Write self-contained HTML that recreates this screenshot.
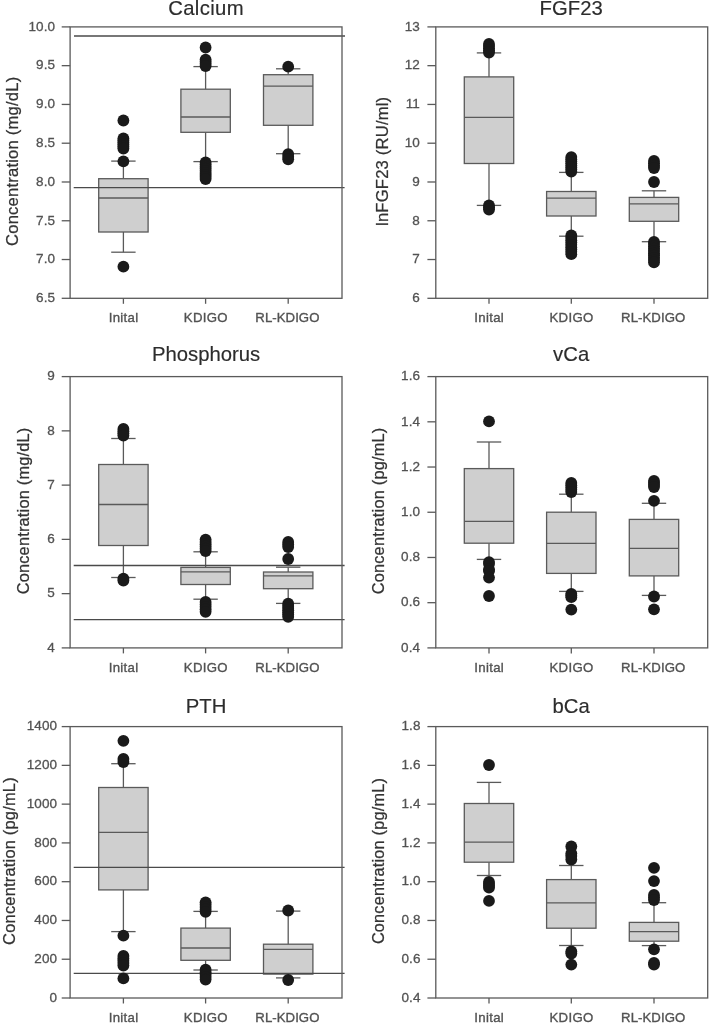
<!DOCTYPE html>
<html><head><meta charset="utf-8"><title>Box plots</title>
<style>
html,body{margin:0;padding:0;background:#fff;}
body{width:709px;height:1023px;overflow:hidden;}
svg{display:block;will-change:transform;}
text{font-family:"Liberation Sans",sans-serif;fill:#3a3a3a;}
.tk{font-size:13.2px;letter-spacing:0.3px;fill:#525252;stroke:#525252;stroke-width:0.35px;}
.ytk{font-size:13.5px;letter-spacing:0.1px;fill:#525252;stroke:#525252;stroke-width:0.3px;}
.tt{font-size:20.3px;letter-spacing:0.0px;fill:#2c2c2c;stroke:#2c2c2c;stroke-width:0.15px;}
.yl{font-size:16.6px;letter-spacing:0.2px;fill:#333;stroke:#333;stroke-width:0.25px;}
</style></head>
<body>
<svg width="709" height="1023" viewBox="0 0 709 1023">
<rect width="709" height="1023" fill="#fff"/>
<line x1="123.4" y1="161.1" x2="123.4" y2="178.7" stroke="#5a5a5a" stroke-width="1.3"/>
<line x1="123.4" y1="232.0" x2="123.4" y2="252.2" stroke="#5a5a5a" stroke-width="1.3"/>
<line x1="111.20" y1="161.1" x2="135.60" y2="161.1" stroke="#5a5a5a" stroke-width="1.3"/>
<line x1="111.20" y1="252.2" x2="135.60" y2="252.2" stroke="#5a5a5a" stroke-width="1.3"/>
<rect x="98.70" y="178.7" width="49.40" height="53.30" fill="#cfcfcf" stroke="#5a5a5a" stroke-width="1.3"/>
<line x1="98.70" y1="198.0" x2="148.10" y2="198.0" stroke="#5a5a5a" stroke-width="1.3"/>
<line x1="205.6" y1="66.6" x2="205.6" y2="89.2" stroke="#5a5a5a" stroke-width="1.3"/>
<line x1="205.6" y1="132.3" x2="205.6" y2="161.6" stroke="#5a5a5a" stroke-width="1.3"/>
<line x1="193.40" y1="66.6" x2="217.80" y2="66.6" stroke="#5a5a5a" stroke-width="1.3"/>
<line x1="193.40" y1="161.6" x2="217.80" y2="161.6" stroke="#5a5a5a" stroke-width="1.3"/>
<rect x="180.90" y="89.2" width="49.40" height="43.10" fill="#cfcfcf" stroke="#5a5a5a" stroke-width="1.3"/>
<line x1="180.90" y1="117.0" x2="230.30" y2="117.0" stroke="#5a5a5a" stroke-width="1.3"/>
<line x1="288.2" y1="68.8" x2="288.2" y2="74.7" stroke="#5a5a5a" stroke-width="1.3"/>
<line x1="288.2" y1="125.3" x2="288.2" y2="153.7" stroke="#5a5a5a" stroke-width="1.3"/>
<line x1="276.00" y1="68.8" x2="300.40" y2="68.8" stroke="#5a5a5a" stroke-width="1.3"/>
<line x1="276.00" y1="153.7" x2="300.40" y2="153.7" stroke="#5a5a5a" stroke-width="1.3"/>
<rect x="263.50" y="74.7" width="49.40" height="50.60" fill="#cfcfcf" stroke="#5a5a5a" stroke-width="1.3"/>
<line x1="263.50" y1="86.1" x2="312.90" y2="86.1" stroke="#5a5a5a" stroke-width="1.3"/>
<line x1="74.0" y1="36.0" x2="345.0" y2="36.0" stroke="#4a4a4a" stroke-width="1.3"/>
<line x1="73.7" y1="187.6" x2="344.6" y2="187.6" stroke="#4a4a4a" stroke-width="1.3"/>
<circle cx="123.4" cy="120.50" r="5.9" fill="#1a1a1a"/>
<circle cx="123.4" cy="138.40" r="5.9" fill="#1a1a1a"/>
<circle cx="123.4" cy="140.42" r="5.9" fill="#1a1a1a"/>
<circle cx="123.4" cy="142.44" r="5.9" fill="#1a1a1a"/>
<circle cx="123.4" cy="144.46" r="5.9" fill="#1a1a1a"/>
<circle cx="123.4" cy="146.48" r="5.9" fill="#1a1a1a"/>
<circle cx="123.4" cy="148.50" r="5.9" fill="#1a1a1a"/>
<circle cx="123.4" cy="161.30" r="5.9" fill="#1a1a1a"/>
<circle cx="123.4" cy="266.70" r="5.9" fill="#1a1a1a"/>
<circle cx="205.6" cy="47.50" r="5.9" fill="#1a1a1a"/>
<circle cx="205.6" cy="59.60" r="5.9" fill="#1a1a1a"/>
<circle cx="205.6" cy="61.73" r="5.9" fill="#1a1a1a"/>
<circle cx="205.6" cy="63.87" r="5.9" fill="#1a1a1a"/>
<circle cx="205.6" cy="66.00" r="5.9" fill="#1a1a1a"/>
<circle cx="205.6" cy="162.50" r="5.9" fill="#1a1a1a"/>
<circle cx="205.6" cy="164.57" r="5.9" fill="#1a1a1a"/>
<circle cx="205.6" cy="166.65" r="5.9" fill="#1a1a1a"/>
<circle cx="205.6" cy="168.72" r="5.9" fill="#1a1a1a"/>
<circle cx="205.6" cy="170.80" r="5.9" fill="#1a1a1a"/>
<circle cx="205.6" cy="172.88" r="5.9" fill="#1a1a1a"/>
<circle cx="205.6" cy="174.95" r="5.9" fill="#1a1a1a"/>
<circle cx="205.6" cy="177.03" r="5.9" fill="#1a1a1a"/>
<circle cx="205.6" cy="179.10" r="5.9" fill="#1a1a1a"/>
<circle cx="288.2" cy="66.70" r="5.9" fill="#1a1a1a"/>
<circle cx="288.2" cy="154.10" r="5.9" fill="#1a1a1a"/>
<circle cx="288.2" cy="156.70" r="5.9" fill="#1a1a1a"/>
<circle cx="288.2" cy="159.30" r="5.9" fill="#1a1a1a"/>
<rect x="70.1" y="26.9" width="271.90" height="271.40" fill="none" stroke="#5a5a5a" stroke-width="1.3"/>
<line x1="61.70" y1="298.30" x2="70.1" y2="298.30" stroke="#5a5a5a" stroke-width="1.3"/>
<text x="55.20" y="302.10" text-anchor="end" class="ytk">6.5</text>
<line x1="61.70" y1="259.53" x2="70.1" y2="259.53" stroke="#5a5a5a" stroke-width="1.3"/>
<text x="55.20" y="263.33" text-anchor="end" class="ytk">7.0</text>
<line x1="61.70" y1="220.76" x2="70.1" y2="220.76" stroke="#5a5a5a" stroke-width="1.3"/>
<text x="55.20" y="224.56" text-anchor="end" class="ytk">7.5</text>
<line x1="61.70" y1="181.99" x2="70.1" y2="181.99" stroke="#5a5a5a" stroke-width="1.3"/>
<text x="55.20" y="185.79" text-anchor="end" class="ytk">8.0</text>
<line x1="61.70" y1="143.21" x2="70.1" y2="143.21" stroke="#5a5a5a" stroke-width="1.3"/>
<text x="55.20" y="147.01" text-anchor="end" class="ytk">8.5</text>
<line x1="61.70" y1="104.44" x2="70.1" y2="104.44" stroke="#5a5a5a" stroke-width="1.3"/>
<text x="55.20" y="108.24" text-anchor="end" class="ytk">9.0</text>
<line x1="61.70" y1="65.67" x2="70.1" y2="65.67" stroke="#5a5a5a" stroke-width="1.3"/>
<text x="55.20" y="69.47" text-anchor="end" class="ytk">9.5</text>
<line x1="61.70" y1="26.90" x2="70.1" y2="26.90" stroke="#5a5a5a" stroke-width="1.3"/>
<text x="55.20" y="30.70" text-anchor="end" class="ytk">10.0</text>
<line x1="123.4" y1="298.3" x2="123.4" y2="303.80" stroke="#5a5a5a" stroke-width="1.3"/>
<text x="123.60000000000001" y="322.30" text-anchor="middle" class="tk">Inital</text>
<line x1="205.6" y1="298.3" x2="205.6" y2="303.80" stroke="#5a5a5a" stroke-width="1.3"/>
<text x="205.79999999999998" y="322.30" text-anchor="middle" class="tk">KDIGO</text>
<line x1="288.2" y1="298.3" x2="288.2" y2="303.80" stroke="#5a5a5a" stroke-width="1.3"/>
<text x="287.4" y="322.30" text-anchor="middle" class="tk" style="letter-spacing:0.05px">RL-KDIGO</text>
<text x="206.05" y="15.20" text-anchor="middle" class="tt" style="letter-spacing:0.35px">Calcium</text>
<text transform="translate(17.90,161.30) rotate(-90)" text-anchor="middle" class="yl" style="font-size:16.6px">Concentration (mg/dL)</text>
<line x1="489.0" y1="52.9" x2="489.0" y2="76.9" stroke="#5a5a5a" stroke-width="1.3"/>
<line x1="489.0" y1="163.5" x2="489.0" y2="205.4" stroke="#5a5a5a" stroke-width="1.3"/>
<line x1="476.80" y1="52.9" x2="501.20" y2="52.9" stroke="#5a5a5a" stroke-width="1.3"/>
<line x1="476.80" y1="205.4" x2="501.20" y2="205.4" stroke="#5a5a5a" stroke-width="1.3"/>
<rect x="464.30" y="76.9" width="49.40" height="86.60" fill="#cfcfcf" stroke="#5a5a5a" stroke-width="1.3"/>
<line x1="464.30" y1="117.4" x2="513.70" y2="117.4" stroke="#5a5a5a" stroke-width="1.3"/>
<line x1="571.3" y1="172.4" x2="571.3" y2="191.5" stroke="#5a5a5a" stroke-width="1.3"/>
<line x1="571.3" y1="216.0" x2="571.3" y2="236.2" stroke="#5a5a5a" stroke-width="1.3"/>
<line x1="559.10" y1="172.4" x2="583.50" y2="172.4" stroke="#5a5a5a" stroke-width="1.3"/>
<line x1="559.10" y1="236.2" x2="583.50" y2="236.2" stroke="#5a5a5a" stroke-width="1.3"/>
<rect x="546.60" y="191.5" width="49.40" height="24.50" fill="#cfcfcf" stroke="#5a5a5a" stroke-width="1.3"/>
<line x1="546.60" y1="198.2" x2="596.00" y2="198.2" stroke="#5a5a5a" stroke-width="1.3"/>
<line x1="654.0" y1="190.8" x2="654.0" y2="197.4" stroke="#5a5a5a" stroke-width="1.3"/>
<line x1="654.0" y1="221.3" x2="654.0" y2="241.7" stroke="#5a5a5a" stroke-width="1.3"/>
<line x1="641.80" y1="190.8" x2="666.20" y2="190.8" stroke="#5a5a5a" stroke-width="1.3"/>
<line x1="641.80" y1="241.7" x2="666.20" y2="241.7" stroke="#5a5a5a" stroke-width="1.3"/>
<rect x="629.30" y="197.4" width="49.40" height="23.90" fill="#cfcfcf" stroke="#5a5a5a" stroke-width="1.3"/>
<line x1="629.30" y1="203.9" x2="678.70" y2="203.9" stroke="#5a5a5a" stroke-width="1.3"/>
<circle cx="489.0" cy="44.00" r="5.9" fill="#1a1a1a"/>
<circle cx="489.0" cy="46.12" r="5.9" fill="#1a1a1a"/>
<circle cx="489.0" cy="48.25" r="5.9" fill="#1a1a1a"/>
<circle cx="489.0" cy="50.38" r="5.9" fill="#1a1a1a"/>
<circle cx="489.0" cy="52.50" r="5.9" fill="#1a1a1a"/>
<circle cx="489.0" cy="205.50" r="5.9" fill="#1a1a1a"/>
<circle cx="489.0" cy="207.50" r="5.9" fill="#1a1a1a"/>
<circle cx="489.0" cy="209.50" r="5.9" fill="#1a1a1a"/>
<circle cx="571.3" cy="157.10" r="5.9" fill="#1a1a1a"/>
<circle cx="571.3" cy="159.17" r="5.9" fill="#1a1a1a"/>
<circle cx="571.3" cy="161.24" r="5.9" fill="#1a1a1a"/>
<circle cx="571.3" cy="163.31" r="5.9" fill="#1a1a1a"/>
<circle cx="571.3" cy="165.39" r="5.9" fill="#1a1a1a"/>
<circle cx="571.3" cy="167.46" r="5.9" fill="#1a1a1a"/>
<circle cx="571.3" cy="169.53" r="5.9" fill="#1a1a1a"/>
<circle cx="571.3" cy="171.60" r="5.9" fill="#1a1a1a"/>
<circle cx="571.3" cy="235.50" r="5.9" fill="#1a1a1a"/>
<circle cx="571.3" cy="237.84" r="5.9" fill="#1a1a1a"/>
<circle cx="571.3" cy="240.18" r="5.9" fill="#1a1a1a"/>
<circle cx="571.3" cy="242.51" r="5.9" fill="#1a1a1a"/>
<circle cx="571.3" cy="244.85" r="5.9" fill="#1a1a1a"/>
<circle cx="571.3" cy="247.19" r="5.9" fill="#1a1a1a"/>
<circle cx="571.3" cy="249.52" r="5.9" fill="#1a1a1a"/>
<circle cx="571.3" cy="251.86" r="5.9" fill="#1a1a1a"/>
<circle cx="571.3" cy="254.20" r="5.9" fill="#1a1a1a"/>
<circle cx="654.0" cy="161.00" r="5.9" fill="#1a1a1a"/>
<circle cx="654.0" cy="163.33" r="5.9" fill="#1a1a1a"/>
<circle cx="654.0" cy="165.67" r="5.9" fill="#1a1a1a"/>
<circle cx="654.0" cy="168.00" r="5.9" fill="#1a1a1a"/>
<circle cx="654.0" cy="182.00" r="5.9" fill="#1a1a1a"/>
<circle cx="654.0" cy="241.80" r="5.9" fill="#1a1a1a"/>
<circle cx="654.0" cy="244.09" r="5.9" fill="#1a1a1a"/>
<circle cx="654.0" cy="246.38" r="5.9" fill="#1a1a1a"/>
<circle cx="654.0" cy="248.67" r="5.9" fill="#1a1a1a"/>
<circle cx="654.0" cy="250.96" r="5.9" fill="#1a1a1a"/>
<circle cx="654.0" cy="253.24" r="5.9" fill="#1a1a1a"/>
<circle cx="654.0" cy="255.53" r="5.9" fill="#1a1a1a"/>
<circle cx="654.0" cy="257.82" r="5.9" fill="#1a1a1a"/>
<circle cx="654.0" cy="260.11" r="5.9" fill="#1a1a1a"/>
<circle cx="654.0" cy="262.40" r="5.9" fill="#1a1a1a"/>
<rect x="435.8" y="26.9" width="271.90" height="271.40" fill="none" stroke="#5a5a5a" stroke-width="1.3"/>
<line x1="427.40" y1="298.30" x2="435.8" y2="298.30" stroke="#5a5a5a" stroke-width="1.3"/>
<text x="419.90" y="302.10" text-anchor="end" class="ytk">6</text>
<line x1="427.40" y1="259.53" x2="435.8" y2="259.53" stroke="#5a5a5a" stroke-width="1.3"/>
<text x="419.90" y="263.33" text-anchor="end" class="ytk">7</text>
<line x1="427.40" y1="220.76" x2="435.8" y2="220.76" stroke="#5a5a5a" stroke-width="1.3"/>
<text x="419.90" y="224.56" text-anchor="end" class="ytk">8</text>
<line x1="427.40" y1="181.99" x2="435.8" y2="181.99" stroke="#5a5a5a" stroke-width="1.3"/>
<text x="419.90" y="185.79" text-anchor="end" class="ytk">9</text>
<line x1="427.40" y1="143.21" x2="435.8" y2="143.21" stroke="#5a5a5a" stroke-width="1.3"/>
<text x="419.90" y="147.01" text-anchor="end" class="ytk">10</text>
<line x1="427.40" y1="104.44" x2="435.8" y2="104.44" stroke="#5a5a5a" stroke-width="1.3"/>
<text x="419.90" y="108.24" text-anchor="end" class="ytk">11</text>
<line x1="427.40" y1="65.67" x2="435.8" y2="65.67" stroke="#5a5a5a" stroke-width="1.3"/>
<text x="419.90" y="69.47" text-anchor="end" class="ytk">12</text>
<line x1="427.40" y1="26.90" x2="435.8" y2="26.90" stroke="#5a5a5a" stroke-width="1.3"/>
<text x="419.90" y="30.70" text-anchor="end" class="ytk">13</text>
<line x1="489.0" y1="298.3" x2="489.0" y2="303.80" stroke="#5a5a5a" stroke-width="1.3"/>
<text x="489.2" y="322.30" text-anchor="middle" class="tk">Inital</text>
<line x1="571.3" y1="298.3" x2="571.3" y2="303.80" stroke="#5a5a5a" stroke-width="1.3"/>
<text x="571.5" y="322.30" text-anchor="middle" class="tk">KDIGO</text>
<line x1="654.0" y1="298.3" x2="654.0" y2="303.80" stroke="#5a5a5a" stroke-width="1.3"/>
<text x="653.2" y="322.30" text-anchor="middle" class="tk" style="letter-spacing:0.05px">RL-KDIGO</text>
<text x="571.15" y="15.20" text-anchor="middle" class="tt" style="letter-spacing:0px">FGF23</text>
<text transform="translate(388.10,161.30) rotate(-90)" text-anchor="middle" class="yl" style="font-size:16.6px">lnFGF23 (RU/ml)</text>
<line x1="123.4" y1="438.5" x2="123.4" y2="464.5" stroke="#5a5a5a" stroke-width="1.3"/>
<line x1="123.4" y1="545.5" x2="123.4" y2="577.5" stroke="#5a5a5a" stroke-width="1.3"/>
<line x1="111.20" y1="438.5" x2="135.60" y2="438.5" stroke="#5a5a5a" stroke-width="1.3"/>
<line x1="111.20" y1="577.5" x2="135.60" y2="577.5" stroke="#5a5a5a" stroke-width="1.3"/>
<rect x="98.70" y="464.5" width="49.40" height="81.00" fill="#cfcfcf" stroke="#5a5a5a" stroke-width="1.3"/>
<line x1="98.70" y1="504.5" x2="148.10" y2="504.5" stroke="#5a5a5a" stroke-width="1.3"/>
<line x1="205.6" y1="551.8" x2="205.6" y2="567.4" stroke="#5a5a5a" stroke-width="1.3"/>
<line x1="205.6" y1="584.5" x2="205.6" y2="599.2" stroke="#5a5a5a" stroke-width="1.3"/>
<line x1="193.40" y1="551.8" x2="217.80" y2="551.8" stroke="#5a5a5a" stroke-width="1.3"/>
<line x1="193.40" y1="599.2" x2="217.80" y2="599.2" stroke="#5a5a5a" stroke-width="1.3"/>
<rect x="180.90" y="567.4" width="49.40" height="17.10" fill="#cfcfcf" stroke="#5a5a5a" stroke-width="1.3"/>
<line x1="180.90" y1="571.8" x2="230.30" y2="571.8" stroke="#5a5a5a" stroke-width="1.3"/>
<line x1="288.2" y1="567.2" x2="288.2" y2="572.0" stroke="#5a5a5a" stroke-width="1.3"/>
<line x1="288.2" y1="588.7" x2="288.2" y2="603.4" stroke="#5a5a5a" stroke-width="1.3"/>
<line x1="276.00" y1="567.2" x2="300.40" y2="567.2" stroke="#5a5a5a" stroke-width="1.3"/>
<line x1="276.00" y1="603.4" x2="300.40" y2="603.4" stroke="#5a5a5a" stroke-width="1.3"/>
<rect x="263.50" y="572.0" width="49.40" height="16.70" fill="#cfcfcf" stroke="#5a5a5a" stroke-width="1.3"/>
<line x1="263.50" y1="575.9" x2="312.90" y2="575.9" stroke="#5a5a5a" stroke-width="1.3"/>
<line x1="73.7" y1="565.5" x2="344.6" y2="565.5" stroke="#4a4a4a" stroke-width="1.3"/>
<line x1="73.7" y1="619.6" x2="344.6" y2="619.6" stroke="#4a4a4a" stroke-width="1.3"/>
<circle cx="123.4" cy="429.00" r="5.9" fill="#1a1a1a"/>
<circle cx="123.4" cy="431.17" r="5.9" fill="#1a1a1a"/>
<circle cx="123.4" cy="433.33" r="5.9" fill="#1a1a1a"/>
<circle cx="123.4" cy="435.50" r="5.9" fill="#1a1a1a"/>
<circle cx="123.4" cy="578.60" r="5.9" fill="#1a1a1a"/>
<circle cx="123.4" cy="580.60" r="5.9" fill="#1a1a1a"/>
<circle cx="205.6" cy="539.60" r="5.9" fill="#1a1a1a"/>
<circle cx="205.6" cy="541.88" r="5.9" fill="#1a1a1a"/>
<circle cx="205.6" cy="544.16" r="5.9" fill="#1a1a1a"/>
<circle cx="205.6" cy="546.44" r="5.9" fill="#1a1a1a"/>
<circle cx="205.6" cy="548.72" r="5.9" fill="#1a1a1a"/>
<circle cx="205.6" cy="551.00" r="5.9" fill="#1a1a1a"/>
<circle cx="205.6" cy="601.90" r="5.9" fill="#1a1a1a"/>
<circle cx="205.6" cy="604.38" r="5.9" fill="#1a1a1a"/>
<circle cx="205.6" cy="606.85" r="5.9" fill="#1a1a1a"/>
<circle cx="205.6" cy="609.32" r="5.9" fill="#1a1a1a"/>
<circle cx="205.6" cy="611.80" r="5.9" fill="#1a1a1a"/>
<circle cx="288.2" cy="542.00" r="5.9" fill="#1a1a1a"/>
<circle cx="288.2" cy="544.50" r="5.9" fill="#1a1a1a"/>
<circle cx="288.2" cy="547.00" r="5.9" fill="#1a1a1a"/>
<circle cx="288.2" cy="559.00" r="5.9" fill="#1a1a1a"/>
<circle cx="288.2" cy="603.70" r="5.9" fill="#1a1a1a"/>
<circle cx="288.2" cy="605.88" r="5.9" fill="#1a1a1a"/>
<circle cx="288.2" cy="608.07" r="5.9" fill="#1a1a1a"/>
<circle cx="288.2" cy="610.25" r="5.9" fill="#1a1a1a"/>
<circle cx="288.2" cy="612.43" r="5.9" fill="#1a1a1a"/>
<circle cx="288.2" cy="614.62" r="5.9" fill="#1a1a1a"/>
<circle cx="288.2" cy="616.80" r="5.9" fill="#1a1a1a"/>
<rect x="70.1" y="376.6" width="271.90" height="271.30" fill="none" stroke="#5a5a5a" stroke-width="1.3"/>
<line x1="61.70" y1="647.90" x2="70.1" y2="647.90" stroke="#5a5a5a" stroke-width="1.3"/>
<text x="54.80" y="651.70" text-anchor="end" class="ytk">4</text>
<line x1="61.70" y1="593.64" x2="70.1" y2="593.64" stroke="#5a5a5a" stroke-width="1.3"/>
<text x="54.80" y="597.44" text-anchor="end" class="ytk">5</text>
<line x1="61.70" y1="539.38" x2="70.1" y2="539.38" stroke="#5a5a5a" stroke-width="1.3"/>
<text x="54.80" y="543.18" text-anchor="end" class="ytk">6</text>
<line x1="61.70" y1="485.12" x2="70.1" y2="485.12" stroke="#5a5a5a" stroke-width="1.3"/>
<text x="54.80" y="488.92" text-anchor="end" class="ytk">7</text>
<line x1="61.70" y1="430.86" x2="70.1" y2="430.86" stroke="#5a5a5a" stroke-width="1.3"/>
<text x="54.80" y="434.66" text-anchor="end" class="ytk">8</text>
<line x1="61.70" y1="376.60" x2="70.1" y2="376.60" stroke="#5a5a5a" stroke-width="1.3"/>
<text x="54.80" y="380.40" text-anchor="end" class="ytk">9</text>
<line x1="123.4" y1="647.9" x2="123.4" y2="653.40" stroke="#5a5a5a" stroke-width="1.3"/>
<text x="123.60000000000001" y="671.90" text-anchor="middle" class="tk">Inital</text>
<line x1="205.6" y1="647.9" x2="205.6" y2="653.40" stroke="#5a5a5a" stroke-width="1.3"/>
<text x="205.79999999999998" y="671.90" text-anchor="middle" class="tk">KDIGO</text>
<line x1="288.2" y1="647.9" x2="288.2" y2="653.40" stroke="#5a5a5a" stroke-width="1.3"/>
<text x="287.4" y="671.90" text-anchor="middle" class="tk" style="letter-spacing:0.05px">RL-KDIGO</text>
<text x="206.05" y="360.50" text-anchor="middle" class="tt" style="letter-spacing:0px">Phosphorus</text>
<text transform="translate(29.00,510.95) rotate(-90)" text-anchor="middle" class="yl" style="font-size:16.35px">Concentration (mg/dL)</text>
<line x1="489.0" y1="442.0" x2="489.0" y2="468.6" stroke="#5a5a5a" stroke-width="1.3"/>
<line x1="489.0" y1="543.2" x2="489.0" y2="559.4" stroke="#5a5a5a" stroke-width="1.3"/>
<line x1="476.80" y1="442.0" x2="501.20" y2="442.0" stroke="#5a5a5a" stroke-width="1.3"/>
<line x1="476.80" y1="559.4" x2="501.20" y2="559.4" stroke="#5a5a5a" stroke-width="1.3"/>
<rect x="464.30" y="468.6" width="49.40" height="74.60" fill="#cfcfcf" stroke="#5a5a5a" stroke-width="1.3"/>
<line x1="464.30" y1="521.4" x2="513.70" y2="521.4" stroke="#5a5a5a" stroke-width="1.3"/>
<line x1="571.3" y1="494.2" x2="571.3" y2="512.2" stroke="#5a5a5a" stroke-width="1.3"/>
<line x1="571.3" y1="573.4" x2="571.3" y2="591.4" stroke="#5a5a5a" stroke-width="1.3"/>
<line x1="559.10" y1="494.2" x2="583.50" y2="494.2" stroke="#5a5a5a" stroke-width="1.3"/>
<line x1="559.10" y1="591.4" x2="583.50" y2="591.4" stroke="#5a5a5a" stroke-width="1.3"/>
<rect x="546.60" y="512.2" width="49.40" height="61.20" fill="#cfcfcf" stroke="#5a5a5a" stroke-width="1.3"/>
<line x1="546.60" y1="543.3" x2="596.00" y2="543.3" stroke="#5a5a5a" stroke-width="1.3"/>
<line x1="654.0" y1="503.3" x2="654.0" y2="519.4" stroke="#5a5a5a" stroke-width="1.3"/>
<line x1="654.0" y1="575.9" x2="654.0" y2="595.4" stroke="#5a5a5a" stroke-width="1.3"/>
<line x1="641.80" y1="503.3" x2="666.20" y2="503.3" stroke="#5a5a5a" stroke-width="1.3"/>
<line x1="641.80" y1="595.4" x2="666.20" y2="595.4" stroke="#5a5a5a" stroke-width="1.3"/>
<rect x="629.30" y="519.4" width="49.40" height="56.50" fill="#cfcfcf" stroke="#5a5a5a" stroke-width="1.3"/>
<line x1="629.30" y1="548.4" x2="678.70" y2="548.4" stroke="#5a5a5a" stroke-width="1.3"/>
<circle cx="489.0" cy="421.40" r="5.9" fill="#1a1a1a"/>
<circle cx="489.0" cy="562.10" r="5.9" fill="#1a1a1a"/>
<circle cx="489.0" cy="564.00" r="5.9" fill="#1a1a1a"/>
<circle cx="489.0" cy="569.50" r="5.9" fill="#1a1a1a"/>
<circle cx="489.0" cy="571.00" r="5.9" fill="#1a1a1a"/>
<circle cx="489.0" cy="577.60" r="5.9" fill="#1a1a1a"/>
<circle cx="489.0" cy="596.00" r="5.9" fill="#1a1a1a"/>
<circle cx="571.3" cy="483.00" r="5.9" fill="#1a1a1a"/>
<circle cx="571.3" cy="485.25" r="5.9" fill="#1a1a1a"/>
<circle cx="571.3" cy="487.50" r="5.9" fill="#1a1a1a"/>
<circle cx="571.3" cy="489.75" r="5.9" fill="#1a1a1a"/>
<circle cx="571.3" cy="492.00" r="5.9" fill="#1a1a1a"/>
<circle cx="571.3" cy="593.80" r="5.9" fill="#1a1a1a"/>
<circle cx="571.3" cy="595.50" r="5.9" fill="#1a1a1a"/>
<circle cx="571.3" cy="597.20" r="5.9" fill="#1a1a1a"/>
<circle cx="571.3" cy="609.60" r="5.9" fill="#1a1a1a"/>
<circle cx="654.0" cy="481.00" r="5.9" fill="#1a1a1a"/>
<circle cx="654.0" cy="483.00" r="5.9" fill="#1a1a1a"/>
<circle cx="654.0" cy="485.00" r="5.9" fill="#1a1a1a"/>
<circle cx="654.0" cy="487.00" r="5.9" fill="#1a1a1a"/>
<circle cx="654.0" cy="500.80" r="5.9" fill="#1a1a1a"/>
<circle cx="654.0" cy="596.50" r="5.9" fill="#1a1a1a"/>
<circle cx="654.0" cy="609.30" r="5.9" fill="#1a1a1a"/>
<rect x="435.8" y="376.6" width="271.90" height="271.30" fill="none" stroke="#5a5a5a" stroke-width="1.3"/>
<line x1="427.40" y1="647.90" x2="435.8" y2="647.90" stroke="#5a5a5a" stroke-width="1.3"/>
<text x="420.20" y="651.70" text-anchor="end" class="ytk">0.4</text>
<line x1="427.40" y1="602.68" x2="435.8" y2="602.68" stroke="#5a5a5a" stroke-width="1.3"/>
<text x="420.20" y="606.48" text-anchor="end" class="ytk">0.6</text>
<line x1="427.40" y1="557.47" x2="435.8" y2="557.47" stroke="#5a5a5a" stroke-width="1.3"/>
<text x="420.20" y="561.27" text-anchor="end" class="ytk">0.8</text>
<line x1="427.40" y1="512.25" x2="435.8" y2="512.25" stroke="#5a5a5a" stroke-width="1.3"/>
<text x="420.20" y="516.05" text-anchor="end" class="ytk">1.0</text>
<line x1="427.40" y1="467.03" x2="435.8" y2="467.03" stroke="#5a5a5a" stroke-width="1.3"/>
<text x="420.20" y="470.83" text-anchor="end" class="ytk">1.2</text>
<line x1="427.40" y1="421.82" x2="435.8" y2="421.82" stroke="#5a5a5a" stroke-width="1.3"/>
<text x="420.20" y="425.62" text-anchor="end" class="ytk">1.4</text>
<line x1="427.40" y1="376.60" x2="435.8" y2="376.60" stroke="#5a5a5a" stroke-width="1.3"/>
<text x="420.20" y="380.40" text-anchor="end" class="ytk">1.6</text>
<line x1="489.0" y1="647.9" x2="489.0" y2="653.40" stroke="#5a5a5a" stroke-width="1.3"/>
<text x="489.2" y="671.90" text-anchor="middle" class="tk">Inital</text>
<line x1="571.3" y1="647.9" x2="571.3" y2="653.40" stroke="#5a5a5a" stroke-width="1.3"/>
<text x="571.5" y="671.90" text-anchor="middle" class="tk">KDIGO</text>
<line x1="654.0" y1="647.9" x2="654.0" y2="653.40" stroke="#5a5a5a" stroke-width="1.3"/>
<text x="653.2" y="671.90" text-anchor="middle" class="tk" style="letter-spacing:0.05px">RL-KDIGO</text>
<text x="571.15" y="360.50" text-anchor="middle" class="tt" style="letter-spacing:0px">vCa</text>
<text transform="translate(384.20,510.95) rotate(-90)" text-anchor="middle" class="yl" style="font-size:16.35px">Concentration (pg/mL)</text>
<line x1="123.4" y1="763.7" x2="123.4" y2="787.5" stroke="#5a5a5a" stroke-width="1.3"/>
<line x1="123.4" y1="889.9" x2="123.4" y2="931.6" stroke="#5a5a5a" stroke-width="1.3"/>
<line x1="111.20" y1="763.7" x2="135.60" y2="763.7" stroke="#5a5a5a" stroke-width="1.3"/>
<line x1="111.20" y1="931.6" x2="135.60" y2="931.6" stroke="#5a5a5a" stroke-width="1.3"/>
<rect x="98.70" y="787.5" width="49.40" height="102.40" fill="#cfcfcf" stroke="#5a5a5a" stroke-width="1.3"/>
<line x1="98.70" y1="832.3" x2="148.10" y2="832.3" stroke="#5a5a5a" stroke-width="1.3"/>
<line x1="205.6" y1="911.4" x2="205.6" y2="928.1" stroke="#5a5a5a" stroke-width="1.3"/>
<line x1="205.6" y1="960.3" x2="205.6" y2="970.0" stroke="#5a5a5a" stroke-width="1.3"/>
<line x1="193.40" y1="911.4" x2="217.80" y2="911.4" stroke="#5a5a5a" stroke-width="1.3"/>
<line x1="193.40" y1="970.0" x2="217.80" y2="970.0" stroke="#5a5a5a" stroke-width="1.3"/>
<rect x="180.90" y="928.1" width="49.40" height="32.20" fill="#cfcfcf" stroke="#5a5a5a" stroke-width="1.3"/>
<line x1="180.90" y1="948.0" x2="230.30" y2="948.0" stroke="#5a5a5a" stroke-width="1.3"/>
<line x1="288.2" y1="911.1" x2="288.2" y2="944.2" stroke="#5a5a5a" stroke-width="1.3"/>
<line x1="288.2" y1="974.1" x2="288.2" y2="977.9" stroke="#5a5a5a" stroke-width="1.3"/>
<line x1="276.00" y1="911.1" x2="300.40" y2="911.1" stroke="#5a5a5a" stroke-width="1.3"/>
<line x1="276.00" y1="977.9" x2="300.40" y2="977.9" stroke="#5a5a5a" stroke-width="1.3"/>
<rect x="263.50" y="944.2" width="49.40" height="29.90" fill="#cfcfcf" stroke="#5a5a5a" stroke-width="1.3"/>
<line x1="263.50" y1="949.4" x2="312.90" y2="949.4" stroke="#5a5a5a" stroke-width="1.3"/>
<line x1="73.7" y1="867.4" x2="344.6" y2="867.4" stroke="#4a4a4a" stroke-width="1.3"/>
<line x1="73.7" y1="973.3" x2="344.6" y2="973.3" stroke="#4a4a4a" stroke-width="1.3"/>
<circle cx="123.4" cy="740.80" r="5.9" fill="#1a1a1a"/>
<circle cx="123.4" cy="759.00" r="5.9" fill="#1a1a1a"/>
<circle cx="123.4" cy="762.00" r="5.9" fill="#1a1a1a"/>
<circle cx="123.4" cy="935.70" r="5.9" fill="#1a1a1a"/>
<circle cx="123.4" cy="956.00" r="5.9" fill="#1a1a1a"/>
<circle cx="123.4" cy="958.38" r="5.9" fill="#1a1a1a"/>
<circle cx="123.4" cy="960.75" r="5.9" fill="#1a1a1a"/>
<circle cx="123.4" cy="963.12" r="5.9" fill="#1a1a1a"/>
<circle cx="123.4" cy="965.50" r="5.9" fill="#1a1a1a"/>
<circle cx="123.4" cy="978.40" r="5.9" fill="#1a1a1a"/>
<circle cx="205.6" cy="902.30" r="5.9" fill="#1a1a1a"/>
<circle cx="205.6" cy="904.67" r="5.9" fill="#1a1a1a"/>
<circle cx="205.6" cy="907.05" r="5.9" fill="#1a1a1a"/>
<circle cx="205.6" cy="909.42" r="5.9" fill="#1a1a1a"/>
<circle cx="205.6" cy="911.80" r="5.9" fill="#1a1a1a"/>
<circle cx="205.6" cy="969.70" r="5.9" fill="#1a1a1a"/>
<circle cx="205.6" cy="972.18" r="5.9" fill="#1a1a1a"/>
<circle cx="205.6" cy="974.65" r="5.9" fill="#1a1a1a"/>
<circle cx="205.6" cy="977.12" r="5.9" fill="#1a1a1a"/>
<circle cx="205.6" cy="979.60" r="5.9" fill="#1a1a1a"/>
<circle cx="288.2" cy="910.50" r="5.9" fill="#1a1a1a"/>
<circle cx="288.2" cy="980.00" r="5.9" fill="#1a1a1a"/>
<rect x="70.1" y="726.6" width="271.90" height="271.40" fill="none" stroke="#5a5a5a" stroke-width="1.3"/>
<line x1="61.70" y1="998.00" x2="70.1" y2="998.00" stroke="#5a5a5a" stroke-width="1.3"/>
<text x="57.20" y="1001.80" text-anchor="end" class="ytk">0</text>
<line x1="61.70" y1="959.23" x2="70.1" y2="959.23" stroke="#5a5a5a" stroke-width="1.3"/>
<text x="57.20" y="963.03" text-anchor="end" class="ytk">200</text>
<line x1="61.70" y1="920.46" x2="70.1" y2="920.46" stroke="#5a5a5a" stroke-width="1.3"/>
<text x="57.20" y="924.26" text-anchor="end" class="ytk">400</text>
<line x1="61.70" y1="881.69" x2="70.1" y2="881.69" stroke="#5a5a5a" stroke-width="1.3"/>
<text x="57.20" y="885.49" text-anchor="end" class="ytk">600</text>
<line x1="61.70" y1="842.91" x2="70.1" y2="842.91" stroke="#5a5a5a" stroke-width="1.3"/>
<text x="57.20" y="846.71" text-anchor="end" class="ytk">800</text>
<line x1="61.70" y1="804.14" x2="70.1" y2="804.14" stroke="#5a5a5a" stroke-width="1.3"/>
<text x="57.20" y="807.94" text-anchor="end" class="ytk">1000</text>
<line x1="61.70" y1="765.37" x2="70.1" y2="765.37" stroke="#5a5a5a" stroke-width="1.3"/>
<text x="57.20" y="769.17" text-anchor="end" class="ytk">1200</text>
<line x1="61.70" y1="726.60" x2="70.1" y2="726.60" stroke="#5a5a5a" stroke-width="1.3"/>
<text x="57.20" y="730.40" text-anchor="end" class="ytk">1400</text>
<line x1="123.4" y1="998.0" x2="123.4" y2="1003.50" stroke="#5a5a5a" stroke-width="1.3"/>
<text x="123.60000000000001" y="1022.00" text-anchor="middle" class="tk">Inital</text>
<line x1="205.6" y1="998.0" x2="205.6" y2="1003.50" stroke="#5a5a5a" stroke-width="1.3"/>
<text x="205.79999999999998" y="1022.00" text-anchor="middle" class="tk">KDIGO</text>
<line x1="288.2" y1="998.0" x2="288.2" y2="1003.50" stroke="#5a5a5a" stroke-width="1.3"/>
<text x="287.4" y="1022.00" text-anchor="middle" class="tk" style="letter-spacing:0.05px">RL-KDIGO</text>
<text x="206.05" y="713.40" text-anchor="middle" class="tt" style="letter-spacing:0px">PTH</text>
<text transform="translate(14.70,861.00) rotate(-90)" text-anchor="middle" class="yl" style="font-size:16.45px">Concentration (pg/mL)</text>
<line x1="489.0" y1="782.4" x2="489.0" y2="803.5" stroke="#5a5a5a" stroke-width="1.3"/>
<line x1="489.0" y1="862.2" x2="489.0" y2="875.5" stroke="#5a5a5a" stroke-width="1.3"/>
<line x1="476.80" y1="782.4" x2="501.20" y2="782.4" stroke="#5a5a5a" stroke-width="1.3"/>
<line x1="476.80" y1="875.5" x2="501.20" y2="875.5" stroke="#5a5a5a" stroke-width="1.3"/>
<rect x="464.30" y="803.5" width="49.40" height="58.70" fill="#cfcfcf" stroke="#5a5a5a" stroke-width="1.3"/>
<line x1="464.30" y1="842.2" x2="513.70" y2="842.2" stroke="#5a5a5a" stroke-width="1.3"/>
<line x1="571.3" y1="865.5" x2="571.3" y2="879.6" stroke="#5a5a5a" stroke-width="1.3"/>
<line x1="571.3" y1="928.2" x2="571.3" y2="945.5" stroke="#5a5a5a" stroke-width="1.3"/>
<line x1="559.10" y1="865.5" x2="583.50" y2="865.5" stroke="#5a5a5a" stroke-width="1.3"/>
<line x1="559.10" y1="945.5" x2="583.50" y2="945.5" stroke="#5a5a5a" stroke-width="1.3"/>
<rect x="546.60" y="879.6" width="49.40" height="48.60" fill="#cfcfcf" stroke="#5a5a5a" stroke-width="1.3"/>
<line x1="546.60" y1="902.9" x2="596.00" y2="902.9" stroke="#5a5a5a" stroke-width="1.3"/>
<line x1="654.0" y1="902.7" x2="654.0" y2="922.4" stroke="#5a5a5a" stroke-width="1.3"/>
<line x1="654.0" y1="941.2" x2="654.0" y2="945.6" stroke="#5a5a5a" stroke-width="1.3"/>
<line x1="641.80" y1="902.7" x2="666.20" y2="902.7" stroke="#5a5a5a" stroke-width="1.3"/>
<line x1="641.80" y1="945.6" x2="666.20" y2="945.6" stroke="#5a5a5a" stroke-width="1.3"/>
<rect x="629.30" y="922.4" width="49.40" height="18.80" fill="#cfcfcf" stroke="#5a5a5a" stroke-width="1.3"/>
<line x1="629.30" y1="931.7" x2="678.70" y2="931.7" stroke="#5a5a5a" stroke-width="1.3"/>
<circle cx="489.0" cy="765.00" r="5.9" fill="#1a1a1a"/>
<circle cx="489.0" cy="882.00" r="5.9" fill="#1a1a1a"/>
<circle cx="489.0" cy="883.90" r="5.9" fill="#1a1a1a"/>
<circle cx="489.0" cy="885.80" r="5.9" fill="#1a1a1a"/>
<circle cx="489.0" cy="887.70" r="5.9" fill="#1a1a1a"/>
<circle cx="489.0" cy="900.90" r="5.9" fill="#1a1a1a"/>
<circle cx="571.3" cy="846.40" r="5.9" fill="#1a1a1a"/>
<circle cx="571.3" cy="853.50" r="5.9" fill="#1a1a1a"/>
<circle cx="571.3" cy="856.00" r="5.9" fill="#1a1a1a"/>
<circle cx="571.3" cy="859.50" r="5.9" fill="#1a1a1a"/>
<circle cx="571.3" cy="951.50" r="5.9" fill="#1a1a1a"/>
<circle cx="571.3" cy="953.50" r="5.9" fill="#1a1a1a"/>
<circle cx="571.3" cy="964.60" r="5.9" fill="#1a1a1a"/>
<circle cx="654.0" cy="867.80" r="5.9" fill="#1a1a1a"/>
<circle cx="654.0" cy="881.10" r="5.9" fill="#1a1a1a"/>
<circle cx="654.0" cy="895.00" r="5.9" fill="#1a1a1a"/>
<circle cx="654.0" cy="897.50" r="5.9" fill="#1a1a1a"/>
<circle cx="654.0" cy="900.00" r="5.9" fill="#1a1a1a"/>
<circle cx="654.0" cy="949.30" r="5.9" fill="#1a1a1a"/>
<circle cx="654.0" cy="963.00" r="5.9" fill="#1a1a1a"/>
<circle cx="654.0" cy="964.50" r="5.9" fill="#1a1a1a"/>
<rect x="435.8" y="726.6" width="271.90" height="271.40" fill="none" stroke="#5a5a5a" stroke-width="1.3"/>
<line x1="427.40" y1="998.00" x2="435.8" y2="998.00" stroke="#5a5a5a" stroke-width="1.3"/>
<text x="420.60" y="1001.80" text-anchor="end" class="ytk">0.4</text>
<line x1="427.40" y1="959.23" x2="435.8" y2="959.23" stroke="#5a5a5a" stroke-width="1.3"/>
<text x="420.60" y="963.03" text-anchor="end" class="ytk">0.6</text>
<line x1="427.40" y1="920.46" x2="435.8" y2="920.46" stroke="#5a5a5a" stroke-width="1.3"/>
<text x="420.60" y="924.26" text-anchor="end" class="ytk">0.8</text>
<line x1="427.40" y1="881.69" x2="435.8" y2="881.69" stroke="#5a5a5a" stroke-width="1.3"/>
<text x="420.60" y="885.49" text-anchor="end" class="ytk">1.0</text>
<line x1="427.40" y1="842.91" x2="435.8" y2="842.91" stroke="#5a5a5a" stroke-width="1.3"/>
<text x="420.60" y="846.71" text-anchor="end" class="ytk">1.2</text>
<line x1="427.40" y1="804.14" x2="435.8" y2="804.14" stroke="#5a5a5a" stroke-width="1.3"/>
<text x="420.60" y="807.94" text-anchor="end" class="ytk">1.4</text>
<line x1="427.40" y1="765.37" x2="435.8" y2="765.37" stroke="#5a5a5a" stroke-width="1.3"/>
<text x="420.60" y="769.17" text-anchor="end" class="ytk">1.6</text>
<line x1="427.40" y1="726.60" x2="435.8" y2="726.60" stroke="#5a5a5a" stroke-width="1.3"/>
<text x="420.60" y="730.40" text-anchor="end" class="ytk">1.8</text>
<line x1="489.0" y1="998.0" x2="489.0" y2="1003.50" stroke="#5a5a5a" stroke-width="1.3"/>
<text x="489.2" y="1022.00" text-anchor="middle" class="tk">Inital</text>
<line x1="571.3" y1="998.0" x2="571.3" y2="1003.50" stroke="#5a5a5a" stroke-width="1.3"/>
<text x="571.5" y="1022.00" text-anchor="middle" class="tk">KDIGO</text>
<line x1="654.0" y1="998.0" x2="654.0" y2="1003.50" stroke="#5a5a5a" stroke-width="1.3"/>
<text x="653.2" y="1022.00" text-anchor="middle" class="tk" style="letter-spacing:0.05px">RL-KDIGO</text>
<text x="571.15" y="713.40" text-anchor="middle" class="tt" style="letter-spacing:0px">bCa</text>
<text transform="translate(384.20,861.00) rotate(-90)" text-anchor="middle" class="yl" style="font-size:16.3px">Concentration (pg/mL)</text>
</svg>
</body></html>
